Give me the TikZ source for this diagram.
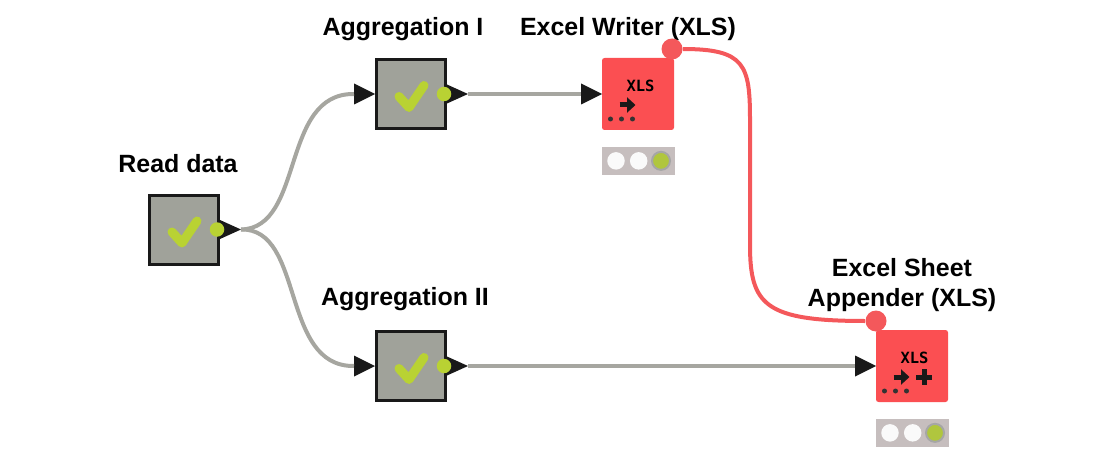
\documentclass[tikz,border=0pt]{standalone}
\usepackage{fontspec}
\setmainfont{Liberation Sans}
\newfontfamily\iconfont{DejaVu Sans Mono}
\usepackage{tikz}
\usetikzlibrary{arrows.meta,positioning,shapes.geometric}

\definecolor{nodegray}{HTML}{A0A29A}
\definecolor{linegray}{HTML}{A6A6A0}
\definecolor{tickgreen}{HTML}{B9D233}
\definecolor{xlsred}{HTML}{FB4F52}
\definecolor{linkred}{HTML}{F4585B}
\definecolor{lightbar}{HTML}{C6BEBE}

\begin{document}
\begin{tikzpicture}[
node distance=3.1cm,
box/.style={draw=black!90, fill=nodegray, line width=0.06cm, rectangle, minimum size=1.38cm, outer sep=0.03cm},
xlsbox/.style={fill=xlsred, rectangle, rounded corners=0.05cm, minimum size=1.44cm, outer sep=0, inner sep=0},
title/.style={font=\fontsize{14.2}{16.8}\selectfont\bfseries, align=center, inner sep=0},
inport/.style={fill=black!90, isosceles triangle, isosceles triangle apex angle=60, shape border rotate=0, isosceles triangle stretches, minimum height=0.42cm, minimum width=0.42cm, inner sep=0, outer sep=0},
outport/.style={fill=black!90, isosceles triangle, isosceles triangle apex angle=60, shape border rotate=0, isosceles triangle stretches, minimum height=0.42cm, minimum width=0.38cm, inner sep=0, outer sep=0},
outdot/.style={fill=tickgreen, circle, minimum size=0.29cm, inner sep=0},
reddot/.style={fill=linkred, circle, minimum size=0.42cm, inner sep=0},
lamp/.style={circle, fill=white!92!lightbar, minimum size=0.35cm, inner sep=0},
lampon/.style={circle, fill=tickgreen!85!gray, draw=gray!70, line width=0.04cm, minimum size=0.36cm, inner sep=0},
lampbar/.style={fill=lightbar, rectangle, minimum width=1.46cm, minimum height=0.56cm, inner sep=0},
wire/.style={draw=linegray, line width=0.08cm},
link/.style={draw=linkred, line width=0.08cm},
tick/.pic={\draw[tickgreen, line width=0.18cm, line cap=round, line join=round] (-0.24,-0.05) -- (-0.04,-0.27) -- (0.26,0.17);},
xlsicon/.pic={
  \node[font=\iconfont\bfseries\fontsize{8.8}{10}\selectfont, inner sep=0] at (0.05,0.16) {XLS};
  \draw[black!90, line width=0.1cm, -{Triangle[length=0.17cm, width=0.3cm]}] (-0.37,-0.22) -- (-0.05,-0.22);
  \foreach \x in {-0.55,-0.33,-0.11} \fill[black!80] (\x,-0.5) circle (0.05);
}
]

% boxes
\useasboundingbox (0,0) rectangle (22.26,-9.24);
\node[box] (read) at (3.68,-4.59) {};
\node[box, above right=1.27cm and 3.1cm of read] (aggone) {};
\node[box, below right=1.29cm and 3.1cm of read] (aggtwo) {};
\node[xlsbox, right=of aggone] (writer) {};
\node[xlsbox, right=8.58cm of aggtwo] (appender) {};

% titles
\node[title, above=0.41cm of read, xshift=-0.12cm] (readtitle) {Read data};
\node[title, above=0.33cm of aggone, xshift=-0.16cm] (aggonetitle) {Aggregation I};
\node[title, above=0.38cm of aggtwo, xshift=-0.12cm] (aggtwotitle) {Aggregation II};
\node[title, above=0.33cm of writer, xshift=-0.2cm] (writertitle) {Excel Writer (XLS)};
\node[title, above=0.36cm of appender, xshift=-0.2cm] (appendertitle) {Excel Sheet\\Appender (XLS)};

% ports
\node[outport, right=0pt of read] (readout) {};
\node[inport, left=0pt of aggone] (agg1in) {};
\node[outport, right=0pt of aggone] (agg1out) {};
\node[inport, left=0pt of aggtwo] (agg2in) {};
\node[outport, right=0pt of aggtwo] (agg2out) {};
\node[inport, left=0pt of writer] (writerin) {};
\node[inport, left=0pt of appender] (appenderin) {};
\node[reddot] (writerlink) at ([shift={(-0.04,0.18)}]writer.north east) {};
\node[reddot] (appenderlink) at ([yshift=0.18cm]appender.north west) {};

\node[outdot] at ([xshift=-0.06cm]read.east) (readdot) {};
\node[outdot] at ([xshift=-0.06cm]aggone.east) (agg1dot) {};
\node[outdot] at ([xshift=-0.06cm]aggtwo.east) (agg2dot) {};

% icons
\pic at (read.center) {tick};
\pic at (aggone.center) {tick};
\pic at (aggtwo.center) {tick};
\pic at (writer.center) {xlsicon};
\pic (app) at (appender.center) {xlsicon};
\draw[black!90, line width=0.1cm] ([xshift=0.08cm,yshift=-0.22cm]appender.center) -- ([xshift=0.4cm,yshift=-0.22cm]appender.center);
\draw[black!90, line width=0.1cm] ([xshift=0.24cm,yshift=-0.06cm]appender.center) -- ([xshift=0.24cm,yshift=-0.38cm]appender.center);

% status lights
\node[lampbar, below=0.33cm of writer] (writerbar) {};
\node[lamp] at ([xshift=-0.44cm]writerbar.center) (w1) {};
\node[lamp, right=0.09cm of w1] (w2) {};
\node[lampon] at ([xshift=0.46cm]writerbar.center) (w3) {};
\node[lampbar, below=0.33cm of appender] (appenderbar) {};
\node[lamp] at ([xshift=-0.44cm]appenderbar.center) (a1) {};
\node[lamp, right=0.09cm of a1] (a2) {};
\node[lampon] at ([xshift=0.46cm]appenderbar.center) (a3) {};

% connectors
\draw[wire] (readout.east) .. controls (6.1,-4.56) and (5.6,-1.86) .. (agg1in.west);
\draw[wire] (readout.east) .. controls (6.1,-4.56) and (5.6,-7.34) .. (agg2in.west);
\draw[wire] (agg1out.east) -- (writerin.west);
\draw[wire] (agg2out.east) -- (appenderin.west);
\draw[link] (writerlink.east) .. controls (14.9,-0.98) and (15.0,-1.3) .. (15.0,-2.4) -- (15.0,-4.9) .. controls (15.0,-6.1) and (15.3,-6.42) .. (appenderlink.west);

\end{tikzpicture}
\end{document}
